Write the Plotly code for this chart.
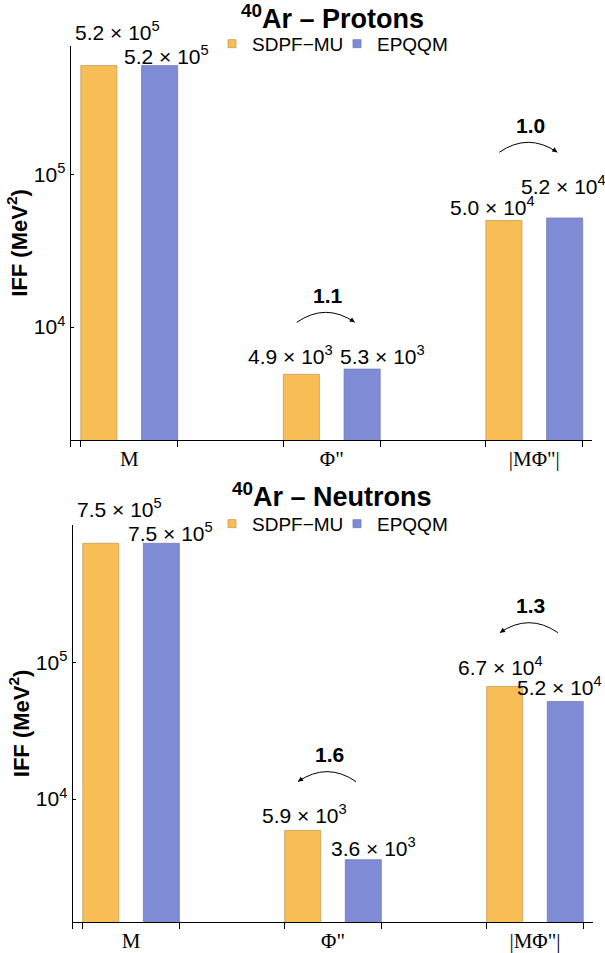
import math
import plotly.graph_objects as go

# ---------------- data ----------------
categories = ["M", 'Φ"', '|MΦ"|']
series_names = ["SDPF\u2212MU", "EPQQM"]
protons_sdpf = [5.2e5, 4.9e3, 5.0e4]
protons_epqqm = [5.2e5, 5.3e3, 5.2e4]
neutrons_sdpf = [7.5e5, 5.9e3, 6.7e4]
neutrons_epqqm = [7.5e5, 3.6e3, 5.2e4]
ratio_groups = [1, 2]
protons_ratio_text = ["1.1", "1.0"]
neutrons_ratio_text = ["1.6", "1.3"]
y_tickvals = [1e4, 1e5]
y_ticktext = ["10<sup>4</sup>", "10<sup>5</sup>"]
panel_titles = ["<b><sup>40</sup>Ar \u2013 Protons</b>", "<b><sup>40</sup>Ar \u2013 Neutrons</b>"]
y_title = "<b>IFF (MeV<sup>2</sup>)</b>"

# ---------------- style ----------------
W, H = 605, 953
ORANGE = "rgb(248,190,85)"
ORANGE_EDGE = "rgb(196,156,90)"
BLUE = "rgb(127,139,212)"
BLUE_EDGE = "rgb(116,124,185)"
SANS = "Liberation Sans, Arial, sans-serif"
SERIF = "Liberation Serif, Times New Roman, serif"
BARGAP = 0.40
BARGROUPGAP = 0.406
XRANGE = [-0.29, 2.285]

panels = [
    dict(xdom=(70.5, 592.0), ydom=(46.0, 442.0), yrange=[3.258, 5.846],
         sdpf=protons_sdpf, epqqm=protons_epqqm, ratios=protons_ratio_text,
         title=panel_titles[0], title_y=17, legend_y=44,
         label_off=[[(19, -38), (7, -14)], [(-11, -22), (20, -17)], [(-11, -18), (-1, -36)]]),
    dict(xdom=(72.5, 592.5), ydom=(527.0, 926.0), yrange=[3.0985, 6.011],
         sdpf=neutrons_sdpf, epqqm=neutrons_epqqm, ratios=neutrons_ratio_text,
         title=panel_titles[1], title_y=497, legend_y=526,
         label_off=[[(19, -38), (9, -14)], [(2, -19), (10, -16)], [(-4, -24), (-6, -19)]]),
]


def fmt(v):
    e = int(math.floor(math.log10(v)))
    m = v / 10 ** e
    return f"{m:.1f} \u00d7 10<sup>{e}</sup>"


def px_x(p, xv):
    x0, x1 = p["xdom"]
    return x0 + (xv - XRANGE[0]) / (XRANGE[1] - XRANGE[0]) * (x1 - x0)


def px_y(p, logv):
    top, bot = p["ydom"]
    r0, r1 = p["yrange"]
    return bot - (logv - r0) / (r1 - r0) * (bot - top)


def paper(xpx, ypx):
    return xpx / W, (H - ypx) / H


slot = (1 - BARGAP) / 2
bar_center = [-slot / 2, slot / 2]
edge = slot - slot * BARGROUPGAP / 2

fig = go.Figure()
layout = dict(width=W, height=H, margin=dict(l=0, r=0, t=0, b=0),
              paper_bgcolor="white", plot_bgcolor="white",
              barmode="group", bargap=BARGAP, bargroupgap=BARGROUPGAP,
              showlegend=True, font=dict(family=SANS, color="black"))
annotations = []
shapes = []

for i, p in enumerate(panels):
    sx = "" if i == 0 else "2"
    xa, ya = "x" + sx, "y" + sx
    ov = str(3 + i)
    for k, (name, vals, col, edgecol) in enumerate(
            [(series_names[0], p["sdpf"], ORANGE, ORANGE_EDGE),
             (series_names[1], p["epqqm"], BLUE, BLUE_EDGE)]):
        fig.add_trace(go.Bar(x=categories, y=vals, name=name, xaxis=xa, yaxis=ya,
                             marker=dict(color=col, line=dict(color=edgecol, width=0.8)),
                             showlegend=False))
        fig.add_trace(go.Scatter(x=[None], y=[None], mode="markers", name=name,
                                 xaxis=xa, yaxis=ya, legend="legend" if i == 0 else "legend2",
                                 marker=dict(symbol="square", size=8, color=col,
                                             line=dict(color=edgecol, width=0.8))))
        # value labels
        for g, v in enumerate(vals):
            dx, dy = p["label_off"][g][k]
            cx = px_x(p, g + bar_center[k]) + dx
            cy = px_y(p, math.log10(v)) + dy
            X, Y = paper(cx, cy)
            annotations.append(dict(x=X, y=Y, xref="paper", yref="paper", text=fmt(v),
                                    showarrow=False, xanchor="center", yanchor="middle",
                                    yshift=-3,
                                    font=dict(family=SANS, size=21, color="black")))
    # invisible trace on the overlay axis that carries the bar-edge ticks
    fig.add_trace(go.Scatter(x=[None], y=[None], xaxis="x" + ov, yaxis=ya,
                             showlegend=False, hoverinfo="skip"))
    # axes
    xd = [p["xdom"][0] / W, p["xdom"][1] / W]
    yd = [(H - p["ydom"][1]) / H, (H - p["ydom"][0]) / H]
    layout["xaxis" + sx] = dict(domain=xd, anchor=ya, type="category", range=XRANGE,
                                showline=True, linecolor="black", linewidth=1,
                                ticks="", showgrid=False, zeroline=False,
                                tickfont=dict(family=SERIF, size=21, color="black"))
    layout["yaxis" + sx] = dict(domain=yd, anchor=xa, type="log", range=p["yrange"],
                                tickvals=y_tickvals, ticktext=y_ticktext,
                                ticks="inside", ticklen=3, tickcolor="black",
                                showline=True, linecolor="black", linewidth=1,
                                showgrid=False, zeroline=False,
                                tickfont=dict(family=SANS, size=21, color="black"),
                                title=dict(text=y_title, standoff=0,
                                           font=dict(family=SANS, size=22, color="black")))
    edges = [XRANGE[0]] + [g + s * edge for g in range(len(categories)) for s in (-1, 1)]
    layout["xaxis" + ov] = dict(overlaying=xa, anchor=ya, type="linear", range=XRANGE,
                                tickvals=edges, ticks="outside", ticklen=6, tickcolor="black",
                                showticklabels=False, showgrid=False, zeroline=False,
                                showline=False)
    # title
    tx, ty = paper(332, p["title_y"])
    annotations.append(dict(x=tx, y=ty, xref="paper", yref="paper", text=p["title"],
                            showarrow=False, xanchor="center", yanchor="middle",
                            font=dict(family=SANS, size=27, color="black")))
    # legend
    lx, ly = paper(212, p["legend_y"])
    layout["legend" if i == 0 else "legend2"] = dict(
        x=lx, y=ly, xanchor="left", yanchor="middle", orientation="h",
        font=dict(family=SANS, size=19, color="black"), itemwidth=30,
        entrywidth=80, bgcolor="rgba(0,0,0,0)", tracegroupgap=0)
    # ratio arcs
    for j, g in enumerate(ratio_groups):
        a, b = p["sdpf"][g], p["epqqm"][g]
        top_label_y = min(px_y(p, math.log10(v)) + p["label_off"][g][k][1]
                          for k, v in enumerate([a, b]))
        cxg = px_x(p, g) - 6
        half = 29
        yend = top_label_y - 30
        ypeak = yend - 10
        yctrl = 2 * ypeak - yend
        left, right = cxg - half, cxg + half
        # arrow points toward the larger value
        if b >= a:
            start, end = left, right
        else:
            start, end = right, left
        P0 = paper(start, yend)
        P1 = paper(cxg, yctrl)
        P2 = paper(end, yend)
        shapes.append(dict(type="path", xref="paper", yref="paper",
                           path=f"M {P0[0]},{P0[1]} Q {P1[0]},{P1[1]} {P2[0]},{P2[1]}",
                           line=dict(color="black", width=1)))
        tdx, tdy = end - cxg, yend - yctrl
        norm = math.hypot(tdx, tdy)
        annotations.append(dict(x=P2[0], y=P2[1], xref="paper", yref="paper", text="",
                                showarrow=True, arrowhead=2, arrowsize=1, arrowwidth=1,
                                arrowcolor="black", axref="pixel", ayref="pixel",
                                ax=-tdx / norm * 7, ay=-tdy / norm * 7))
        rx, ry = paper(cxg + 2, yend - 27)
        annotations.append(dict(x=rx, y=ry, xref="paper", yref="paper",
                                text=f"<b>{p['ratios'][j]}</b>", showarrow=False,
                                xanchor="center", yanchor="middle",
                                font=dict(family=SANS, size=21, color="black")))

layout["annotations"] = annotations
layout["shapes"] = shapes
fig.update_layout(**layout)
fig.write_html("out.html", config={"displayModeBar": False},
               post_script="document.body.style.margin='0px';document.body.style.padding='0px';")
